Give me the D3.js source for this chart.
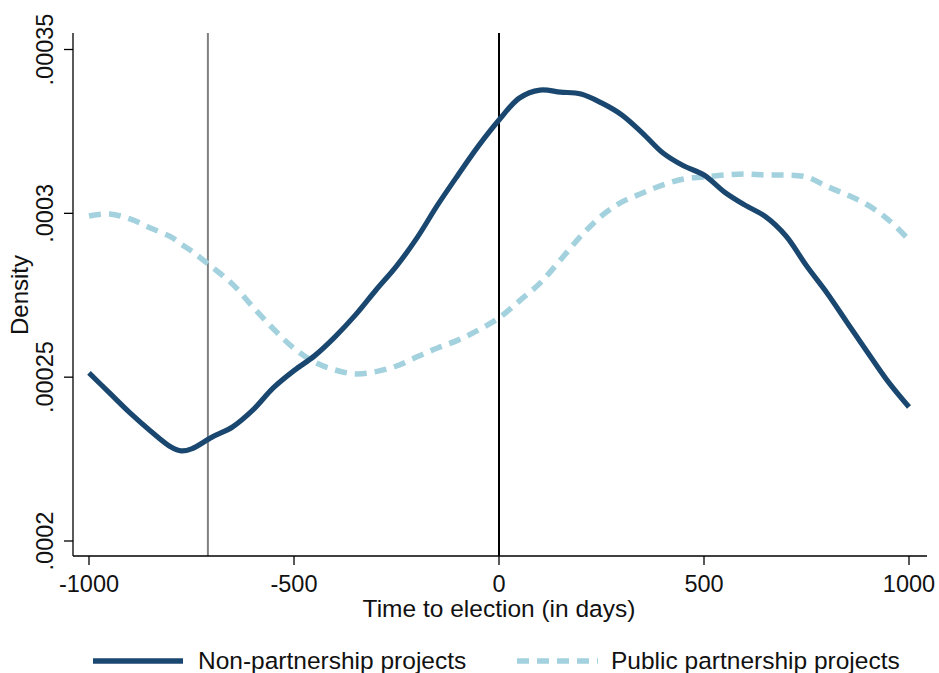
<!DOCTYPE html>
<html>
<head>
<meta charset="utf-8">
<script src="https://cdn.jsdelivr.net/npm/d3@7"></script>
<style>
  html, body { margin: 0; padding: 0; background: #fff; }
  svg { display: block; font-family: "Liberation Sans", Arial, sans-serif; }
</style>
</head>
<body>
<svg id="chart" width="939" height="673"></svg>
<script>
// ---- data ----
const days = [-1000,-950,-900,-850,-800,-775,-750,-700,-650,-600,-550,-500,-450,-400,-350,-300,-250,-200,-150,-100,-50,0,50,100,150,200,250,300,350,400,450,500,550,600,650,700,750,800,850,900,950,1000];
const nonPartnership = [0.0002513,0.0002452,0.0002391,0.0002336,0.0002287,0.0002275,0.0002281,0.0002317,0.0002348,0.0002400,0.0002468,0.0002520,0.0002565,0.0002623,0.0002690,0.0002766,0.0002839,0.0002925,0.0003025,0.0003117,0.0003206,0.0003285,0.0003352,0.0003376,0.0003370,0.0003364,0.0003337,0.0003300,0.0003245,0.0003184,0.0003145,0.0003117,0.0003065,0.0003025,0.0002990,0.0002931,0.0002840,0.0002757,0.0002665,0.0002574,0.0002485,0.0002409];
const publicPartnership = [0.0002992,0.0002998,0.0002983,0.0002955,0.0002928,0.0002906,0.0002885,0.0002836,0.0002784,0.0002714,0.0002647,0.0002588,0.0002546,0.0002522,0.0002510,0.0002517,0.0002534,0.0002562,0.0002589,0.0002613,0.0002644,0.0002681,0.0002733,0.0002787,0.0002858,0.0002931,0.0002992,0.0003035,0.0003062,0.0003087,0.0003105,0.0003111,0.0003117,0.0003120,0.0003117,0.0003117,0.0003111,0.0003082,0.0003056,0.0003025,0.0002980,0.0002919];
const xTicks = [-1000, -500, 0, 500, 1000];
const yTicks = [0.0002, 0.00025, 0.0003, 0.00035];
const yTickLabels = [".0002", ".00025", ".0003", ".00035"];
const refLines = [-710, 0];
const seriesNames = ["Non-partnership projects", "Public partnership projects"];

(function () {
// ---- layout ----
const svg = d3.select("#chart");
const pLeft = 73, pRight = 927, pTop = 33, pBottom = 556;
const x = d3.scaleLinear().domain([-1000, 1000]).range([89, 909]);
const y = d3.scaleLinear().domain([0.0002, 0.00035]).range([541, 49.5]);
const darkCol = "#1a476f", lightCol = "#a3d2de";

// reference lines
svg.append("line").attr("x1", x(refLines[0])).attr("x2", x(refLines[0]))
  .attr("y1", pTop).attr("y2", pBottom).attr("stroke", "#808080").attr("stroke-width", 2);
svg.append("line").attr("x1", x(refLines[1])).attr("x2", x(refLines[1]))
  .attr("y1", pTop).attr("y2", pBottom).attr("stroke", "#000").attr("stroke-width", 2);

// lines
const lineGen = vals => d3.line().x((d, i) => x(days[i])).y(d => y(d)).curve(d3.curveCatmullRom)(vals);
svg.append("path").attr("d", lineGen(publicPartnership)).attr("fill", "none")
  .attr("stroke", lightCol).attr("stroke-width", 5.5).attr("stroke-dasharray", "12,8");
svg.append("path").attr("d", lineGen(nonPartnership)).attr("fill", "none")
  .attr("stroke", darkCol).attr("stroke-width", 5.2).attr("stroke-linejoin", "round");

// axes
const xAxis = svg.append("g").attr("transform", `translate(0,${pBottom})`);
xAxis.append("line").attr("x1", pLeft).attr("x2", pRight).attr("y1", 0).attr("y2", 0)
  .attr("stroke", "#000").attr("stroke-width", 1.3);
xTicks.forEach(t => {
  xAxis.append("line").attr("x1", x(t)).attr("x2", x(t)).attr("y1", 0).attr("y2", 9)
    .attr("stroke", "#000").attr("stroke-width", 1.3);
  xAxis.append("text").attr("x", x(t)).attr("y", 36).attr("text-anchor", "middle")
    .attr("font-size", 23.5).attr("fill", "#111").text(t);
});
svg.append("text").attr("x", 499).attr("y", 617).attr("text-anchor", "middle")
  .attr("font-size", 24.5).attr("fill", "#111").text("Time to election (in days)");

const yAxis = svg.append("g").attr("transform", `translate(${pLeft},0)`);
yAxis.append("line").attr("x1", 0).attr("x2", 0).attr("y1", pTop).attr("y2", pBottom)
  .attr("stroke", "#000").attr("stroke-width", 1.3);
yTicks.forEach((t, i) => {
  yAxis.append("line").attr("x1", -9).attr("x2", 0).attr("y1", y(t)).attr("y2", y(t))
    .attr("stroke", "#000").attr("stroke-width", 1.3);
  yAxis.append("text").attr("transform", `translate(-20,${y(t)}) rotate(-90)`)
    .attr("text-anchor", "middle").attr("font-size", 23.5).attr("fill", "#111").text(yTickLabels[i]);
});
svg.append("text").attr("transform", `translate(28,295) rotate(-90)`)
  .attr("text-anchor", "middle").attr("font-size", 24).attr("fill", "#111").text("Density");

// legend
const leg = svg.append("g");
leg.append("line").attr("x1", 93).attr("x2", 183).attr("y1", 661).attr("y2", 661)
  .attr("stroke", darkCol).attr("stroke-width", 5.5);
leg.append("text").attr("x", 198).attr("y", 669).attr("font-size", 24.5).attr("fill", "#111").text(seriesNames[0]);
leg.append("line").attr("x1", 517).attr("x2", 598).attr("y1", 661).attr("y2", 661)
  .attr("stroke", lightCol).attr("stroke-width", 5.5).attr("stroke-dasharray", "12,8");
leg.append("text").attr("x", 611).attr("y", 669).attr("font-size", 24.5).attr("fill", "#111").text(seriesNames[1]);
})();
</script>
</body>
</html>
